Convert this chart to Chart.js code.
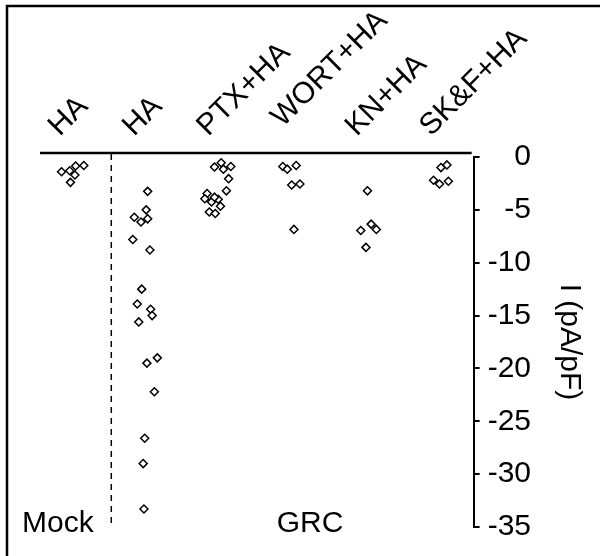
<!DOCTYPE html>
<html>
<head>
<meta charset="utf-8">
<script src="https://cdn.jsdelivr.net/npm/chart.js@4.4.0/dist/chart.umd.min.js"></script>
<style>
  body { margin: 0; background: #fff; }
</style>
</head>
<body>
<canvas id="myChart" width="600" height="556"></canvas>
<script>
var groups = ["HA", "HA", "PTX+HA", "WORT+HA", "KN+HA", "SK&F+HA"];

// x = column index + small jitter, y = current density (pA/pF)
var mockPos = [-0.15, -0.04, 0.04, 0.15, 0.03, -0.03];
var mockVal = [-1.4, -1.3, -0.85, -0.8, -1.7, -2.4];

var haPos = [1.01, 0.99, 0.83, 0.92, 1.01, 0.81, 1.04, 0.93, 0.87, 1.05, 1.07, 0.89, 1.14, 1.0, 1.1, 0.97, 0.95, 0.96];
var haVal = [-3.25, -5.0, -5.7, -6.15, -5.85, -7.8, -8.8, -12.5, -13.9, -14.4, -15.0, -15.6, -19.0, -19.5, -22.2, -26.6, -29.0, -33.3];

var ptxPos = [1.91, 2.0, 2.03, 2.13, 2.1, 2.07, 1.81, 1.78, 1.87, 1.96, 1.99, 1.84, 1.92, 1.91];
var ptxVal = [-0.95, -0.55, -1.15, -0.9, -2.05, -3.2, -3.45, -3.95, -4.25, -4.0, -4.65, -5.2, -5.35, -3.8];

var wortPos = [2.83, 2.89, 3.01, 2.95, 3.06, 2.98];
var wortVal = [-0.9, -1.15, -0.8, -2.65, -2.55, -6.85];

var knPos = [3.97, 4.02, 3.88, 4.09, 3.95];
var knVal = [-3.2, -6.35, -6.95, -6.85, -8.55];

var skfPos = [4.96, 5.04, 4.86, 4.94, 5.06];
var skfVal = [-1.0, -0.75, -2.2, -2.55, -2.3];

var yTicks = [0, -5, -10, -15, -20, -25, -30, -35];
var dividerPos = 0.52;

var fontFamily = '"Liberation Sans", Arial, Helvetica, sans-serif';
var fontSize = 30;
// small vertical nudges of the rotated labels (px)
var labelLift = [0, 0, 0, 9, 0, 0];

function toPoints(xs, ys) {
    var pts = [];
    for (var i = 0; i < xs.length; i++) {
        pts.push({ x: xs[i], y: ys[i] });
    }
    return pts;
}

function makeSet(label, xs, ys) {
    return {
        label: label,
        data: toPoints(xs, ys),
        pointStyle: 'rectRot',
        pointRadius: 4,
        pointHoverRadius: 4,
        borderColor: '#000',
        backgroundColor: '#fff',
        pointBorderWidth: 1.5
    };
}

var overlay = {
    id: 'overlay',
    afterDraw: function (chart) {
        var ctx = chart.ctx;
        var area = chart.chartArea;
        var xs = chart.scales.x;
        ctx.save();
        ctx.strokeStyle = '#000';
        ctx.fillStyle = '#000';

        // frame (top and left)
        ctx.lineWidth = 2.5;
        ctx.beginPath();
        ctx.moveTo(7, 556);
        ctx.lineTo(7, 6);
        ctx.lineTo(600, 6);
        ctx.stroke();

        // horizontal line above the data
        ctx.lineWidth = 2.5;
        ctx.beginPath();
        ctx.moveTo(area.left, area.top - 4);
        ctx.lineTo(area.right - 2, area.top - 4);
        ctx.stroke();

        // dashed separator Mock | GRC
        var dx = xs.getPixelForValue(dividerPos);
        ctx.setLineDash([6, 5]);
        ctx.lineWidth = 1.5;
        ctx.beginPath();
        ctx.moveTo(dx, area.top - 3);
        ctx.lineTo(dx, area.bottom);
        ctx.stroke();
        ctx.setLineDash([]);

        // rotated group labels
        ctx.font = fontSize + 'px ' + fontFamily;
        ctx.textAlign = 'left';
        ctx.textBaseline = 'alphabetic';
        groups.forEach(function (g, i) {
            ctx.save();
            ctx.translate(xs.getPixelForValue(i) - 13, area.top - 20 - labelLift[i]);
            ctx.rotate(-Math.PI / 4);
            ctx.fillText(g, 0, 0);
            ctx.restore();
        });

        ctx.fillText('Mock', 22, 532);
        ctx.textAlign = 'center';
        ctx.fillText('GRC', 310, 532);

        // y axis title, reading downwards
        ctx.save();
        ctx.translate(569, (area.top + area.bottom) / 2);
        ctx.rotate(Math.PI / 2);
        ctx.textBaseline = 'middle';
        ctx.fillText('I (pA/pF)', 0, 0);
        ctx.restore();

        ctx.restore();
    }
};

new Chart("myChart", {
    type: 'scatter',
    data: {
        datasets: [
            makeSet('Mock HA', mockPos, mockVal),
            makeSet('HA', haPos, haVal),
            makeSet('PTX+HA', ptxPos, ptxVal),
            makeSet('WORT+HA', wortPos, wortVal),
            makeSet('KN+HA', knPos, knVal),
            makeSet('SK&F+HA', skfPos, skfVal)
        ]
    },
    options: {
        responsive: false,
        animation: false,
        layout: { padding: { left: 40, top: 157, right: 69, bottom: 29 } },
        plugins: {
            legend: { display: false },
            tooltip: { enabled: false }
        },
        scales: {
            x: {
                type: 'linear',
                display: false,
                min: -0.44,
                max: 5.4
            },
            y: {
                type: 'linear',
                position: 'right',
                min: -35,
                max: 0,
                afterBuildTicks: function (scale) {
                    scale.ticks = yTicks.map(function (v) { return { value: v }; });
                },
                ticks: {
                    color: '#000',
                    padding: 4,
                    crossAlign: 'far',
                    font: { size: fontSize, family: fontFamily }
                },
                grid: {
                    drawOnChartArea: false,
                    drawTicks: true,
                    tickLength: 6,
                    color: '#000',
                    lineWidth: 2
                },
                border: { display: true, color: '#000', width: 2 }
            }
        }
    },
    plugins: [overlay]
});
</script>
</body>
</html>
